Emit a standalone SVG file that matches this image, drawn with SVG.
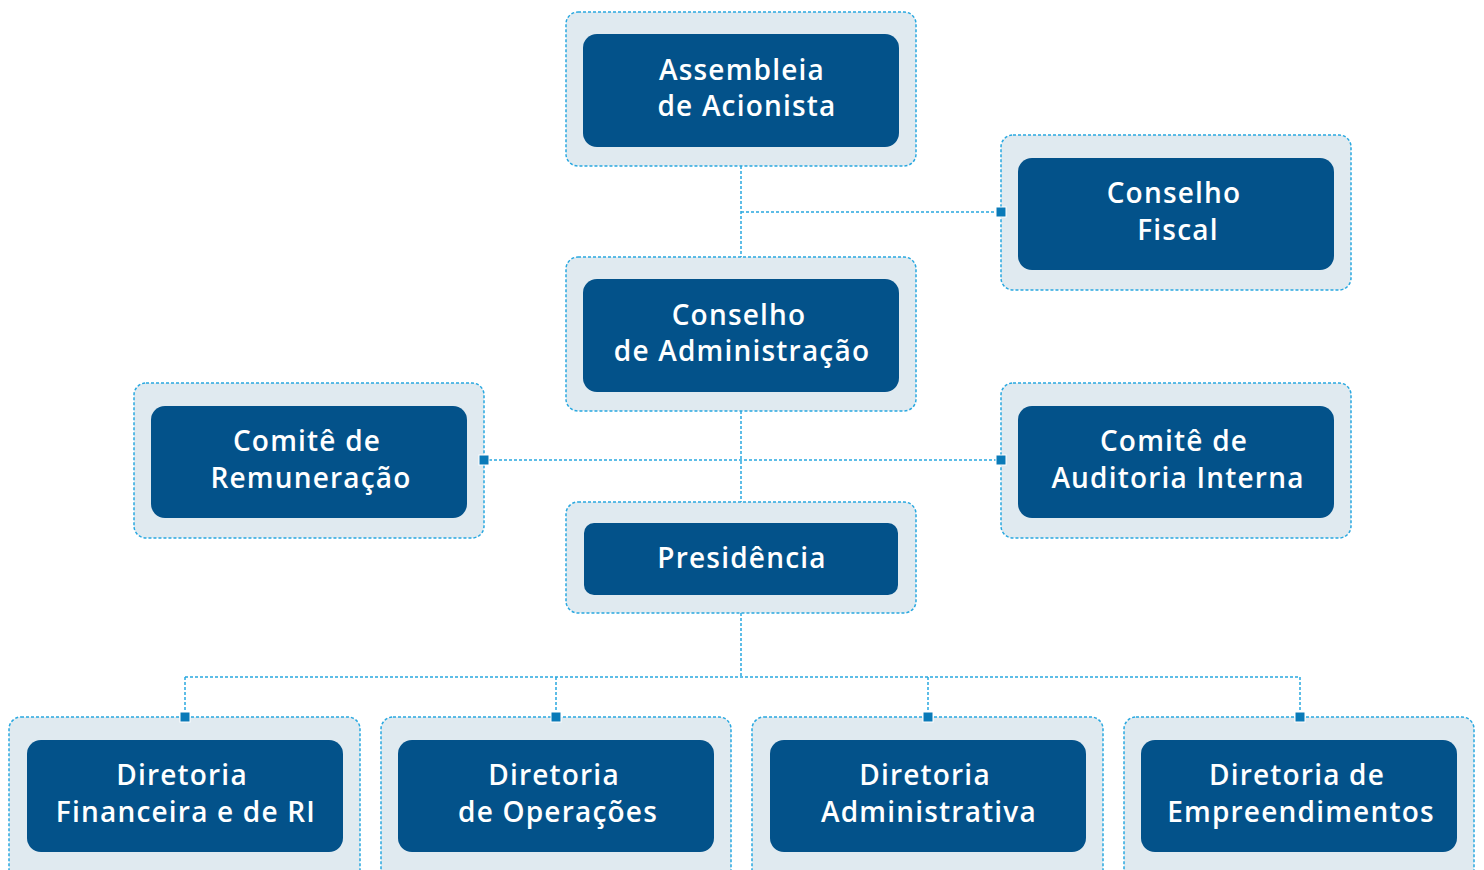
<svg xmlns="http://www.w3.org/2000/svg" width="1484" height="870" viewBox="0 0 1484 870">
<style>
.outer{fill:#e0eaf0;stroke:#29a8e0;stroke-width:1.5;stroke-dasharray:3 2}
.inner{fill:#03528a}
.t{fill:#fff;font-family:"Open Sans","Liberation Sans",sans-serif;font-weight:600;font-size:28px;letter-spacing:1.2px;text-anchor:middle}
.c{fill:none;stroke:#29a8e0;stroke-width:1.5;stroke-dasharray:3 2}
.sq{fill:#0a7ab8;stroke:#fff;stroke-width:1}
</style>
<rect width="1484" height="870" fill="#fff"/>
<g id="connectors">
<path class="c" d="M741 166V257M741 212H1001"/>
<path class="c" d="M741 411V502M484 460H1001"/>
<path class="c" d="M741 613V677M185 677H1300M185 677V717M556 677V717M928 677V717M1300 677V717"/>
</g>
<g id="assembleia">
<rect class="outer" x="566" y="12" width="350" height="154" rx="12"/>
<rect class="inner" x="583" y="34" width="316" height="113" rx="14"/>
<text class="t" x="742" y="80">Assembleia</text>
<text class="t" x="747" y="116">de Acionista</text>
</g>
<g id="conselho-fiscal">
<rect class="outer" x="1001" y="135" width="350" height="155" rx="12"/>
<rect class="inner" x="1018" y="158" width="316" height="112" rx="14"/>
<text class="t" x="1174" y="203">Conselho</text>
<text class="t" x="1178" y="240">Fiscal</text>
</g>
<g id="conselho-admin">
<rect class="outer" x="566" y="257" width="350" height="154" rx="12"/>
<rect class="inner" x="583" y="279" width="316" height="113" rx="14"/>
<text class="t" x="739" y="325">Conselho</text>
<text class="t" x="742" y="361">de Administração</text>
</g>
<g id="comite-remuneracao">
<rect class="outer" x="134" y="383" width="350" height="155" rx="12"/>
<rect class="inner" x="151" y="406" width="316" height="112" rx="14"/>
<text class="t" x="307" y="451">Comitê de</text>
<text class="t" x="311" y="488">Remuneração</text>
</g>
<g id="comite-auditoria">
<rect class="outer" x="1001" y="383" width="350" height="155" rx="12"/>
<rect class="inner" x="1018" y="406" width="316" height="112" rx="14"/>
<text class="t" x="1174" y="451">Comitê de</text>
<text class="t" x="1178" y="488">Auditoria Interna</text>
</g>
<g id="presidencia">
<rect class="outer" x="566" y="502" width="350" height="111" rx="12"/>
<rect class="inner" x="584" y="523" width="314" height="72" rx="10"/>
<text class="t" x="742" y="568">Presidência</text>
</g>
<g id="dir-financeira">
<rect class="outer" x="9" y="717" width="351" height="170" rx="12"/>
<rect class="inner" x="27" y="740" width="316" height="112" rx="14"/>
<text class="t" x="182" y="785">Diretoria</text>
<text class="t" x="186" y="822">Financeira e de RI</text>
</g>
<g id="dir-operacoes">
<rect class="outer" x="381" y="717" width="350" height="170" rx="12"/>
<rect class="inner" x="398" y="740" width="316" height="112" rx="14"/>
<text class="t" x="554" y="785">Diretoria</text>
<text class="t" x="558" y="822">de Operações</text>
</g>
<g id="dir-administrativa">
<rect class="outer" x="752" y="717" width="351" height="170" rx="12"/>
<rect class="inner" x="770" y="740" width="316" height="112" rx="14"/>
<text class="t" x="925" y="785">Diretoria</text>
<text class="t" x="929" y="822">Administrativa</text>
</g>
<g id="dir-empreendimentos">
<rect class="outer" x="1124" y="717" width="350" height="170" rx="12"/>
<rect class="inner" x="1141" y="740" width="316" height="112" rx="14"/>
<text class="t" x="1297" y="785">Diretoria de</text>
<text class="t" x="1301" y="822">Empreendimentos</text>
</g>
<g id="anchors">
<rect class="sq" x="996" y="207" width="10" height="10"/>
<rect class="sq" x="479" y="455" width="10" height="10"/>
<rect class="sq" x="996" y="455" width="10" height="10"/>
<rect class="sq" x="180" y="712" width="10" height="10"/>
<rect class="sq" x="551" y="712" width="10" height="10"/>
<rect class="sq" x="923" y="712" width="10" height="10"/>
<rect class="sq" x="1295" y="712" width="10" height="10"/>
</g>
</svg>
